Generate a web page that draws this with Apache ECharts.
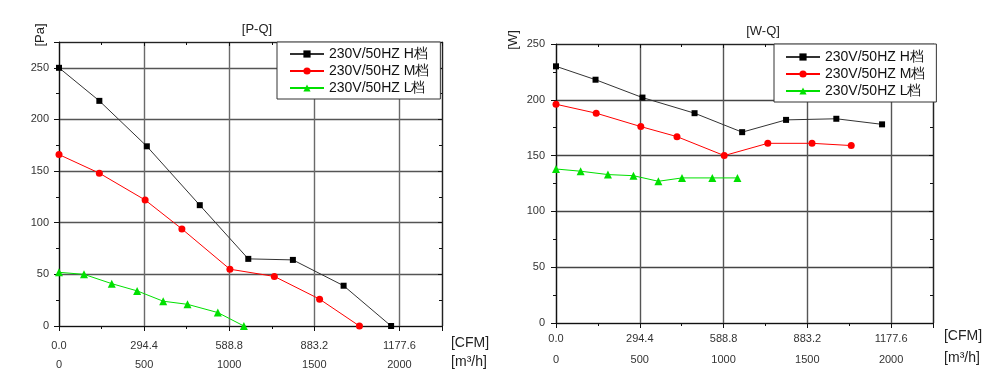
<!DOCTYPE html>
<html>
<head>
<meta charset="utf-8">
<script src="https://cdn.jsdelivr.net/npm/echarts@6/dist/echarts.min.js"></script>
<style>
html,body{margin:0;padding:0;background:#fff;}
#chart{width:1000px;height:386px;}
</style>
</head>
<body>
<div id="chart"></div>
<script>
// ---------- data ----------
const seriesNames = ['230V/50HZ H档', '230V/50HZ M档', '230V/50HZ L档'];

// P-Q chart (x: m³/h, y: Pa)
const pqFlowH = [0, 237, 516, 827, 1112, 1374, 1672, 1951];
const pqPressH = [250, 218, 174, 117, 65, 64, 39, 0];
const pqFlowM = [0, 237, 506, 722, 1004, 1265, 1531, 1765];
const pqPressM = [166, 148, 122, 94, 55, 48, 26, 0];
const pqFlowL = [0, 147, 310, 459, 612, 755, 933, 1086];
const pqPressL = [52, 50, 41, 34, 24, 21, 13, 0];

// W-Q chart (x: m³/h, y: W)
const wqFlowH = [0, 236, 516, 827, 1111, 1373, 1673, 1946];
const wqPowerH = [230, 218, 202, 188, 171, 182, 183, 178];
const wqFlowM = [0, 240, 506, 722, 1004, 1264, 1528, 1762];
const wqPowerM = [196, 188, 176, 167, 150, 161, 161, 159];
const wqFlowL = [0, 147, 310, 462, 611, 752, 933, 1083];
const wqPowerL = [138, 136, 133, 132, 127, 130, 130, 130];

// tick labels
const m3hTicks = [0, 500, 1000, 1500, 2000];
const cfmTickLabels = ['0.0', '294.4', '588.8', '883.2', '1177.6'];
const pqYTicks = [0, 50, 100, 150, 200, 250];
const wqYTicks = [0, 50, 100, 150, 200, 250];

// ---------- chart ----------
const FONT = 'Liberation Sans, Arial, sans-serif';
const pair = (xs, ys) => xs.map((x, i) => [x, ys[i]]);
const xLabel = v => {
  const i = m3hTicks.indexOf(v);
  return i < 0 ? '' : cfmTickLabels[i] + '\n' + m3hTicks[i];
};
const colors = ['#333333', '#ff0000', '#00e000'];
const symbols = ['rect', 'circle', 'triangle'];
const symSizes = [6, 7, 8];

function bottomX(grid, lineH, margin, splitColor) {
  return {
    type: 'value', gridIndex: grid, position: 'bottom',
    min: 0, max: 2250, interval: 500,
    axisLine: { show: true, onZero: false, lineStyle: { color: '#111', width: 1.2 } },
    axisTick: { show: true, inside: false, length: 5, lineStyle: { color: '#111' } },
    minorTick: { show: true, splitNumber: 2, length: 3, lineStyle: { color: '#111' } },
    splitLine: { show: true, lineStyle: { color: splitColor, width: 1.4 } },
    axisLabel: {
      show: true, formatter: xLabel, showMaxLabel: false,
      fontFamily: FONT, fontSize: 11, color: '#333', lineHeight: lineH, margin: margin
    }
  };
}
function topX(grid) {
  return {
    type: 'value', gridIndex: grid, position: 'top',
    min: 0, max: 2250, interval: 500,
    axisLine: { show: true, onZero: false, lineStyle: { color: '#222', width: 1.2 } },
    axisTick: { show: true, inside: true, length: 4, lineStyle: { color: '#111' } },
    minorTick: { show: true, splitNumber: 2, length: 3, lineStyle: { color: '#111' } },
    splitLine: { show: false }, axisLabel: { show: false }
  };
}
function leftY(grid, max, margin, splitColor, ticks) {
  return {
    type: 'value', gridIndex: grid, position: 'left',
    min: 0, max: max, interval: 50,
    axisLine: { show: true, onZero: false, lineStyle: { color: '#111', width: 1.2 } },
    axisTick: { show: true, inside: false, length: 5, lineStyle: { color: '#111' } },
    minorTick: { show: true, splitNumber: 2, length: 3, lineStyle: { color: '#111' } },
    splitLine: { show: true, lineStyle: { color: splitColor, width: 1.4 } },
    axisLabel: {
      show: true, showMaxLabel: ticks.indexOf(max) >= 0,
      formatter: v => (ticks.indexOf(v) >= 0 ? String(v) : ''),
      fontFamily: FONT, fontSize: 11, color: '#333', margin: margin
    }
  };
}
function rightY(grid, max) {
  return {
    type: 'value', gridIndex: grid, position: 'right',
    min: 0, max: max, interval: 50,
    axisLine: { show: true, onZero: false, lineStyle: { color: '#222', width: 1.2 } },
    axisTick: { show: true, inside: true, length: 4, lineStyle: { color: '#111' } },
    minorTick: { show: true, splitNumber: 2, length: 3, lineStyle: { color: '#111' } },
    splitLine: { show: false }, axisLabel: { show: false }
  };
}
function line(nameIdx, data, xi, yi) {
  return {
    type: 'line', name: seriesNames[nameIdx], data: data,
    xAxisIndex: xi, yAxisIndex: yi,
    symbol: symbols[nameIdx], symbolSize: symSizes[nameIdx],
    showAllSymbol: true, animation: false,
    lineStyle: { color: colors[nameIdx], width: 1 },
    itemStyle: { color: nameIdx === 0 ? '#000' : colors[nameIdx] },
    z: 5 - nameIdx
  };
}
function legend(left, top, padding) {
  return {
    orient: 'vertical', left: left, top: top,
    data: seriesNames,
    itemWidth: 34, itemHeight: 9, itemGap: 3,
    padding: padding,
    backgroundColor: '#fff', borderColor: '#333', borderWidth: 1,
    selectedMode: false,
    textStyle: { fontFamily: FONT, fontSize: 14, color: '#111', lineHeight: 14, padding: [0, 0, 0, 0] }
  };
}
function txt(text, x, y, size, rot) {
  return {
    type: 'text', x: x, y: y, rotation: rot || 0, z: 100,
    style: {
      text: text, font: size + 'px ' + FONT, fill: '#222',
      align: 'center', verticalAlign: 'middle',
      textAlign: 'center', textVerticalAlign: 'middle'
    }
  };
}

const chart = echarts.init(document.getElementById('chart'), null, { renderer: 'canvas' });
chart.setOption({
  animation: false,
  backgroundColor: '#fff',
  textStyle: { fontFamily: FONT },
  title: [
    { text: '[P-Q]', left: 252, top: 18, textAlign: 'center', textStyle: { fontFamily: FONT, fontSize: 13, fontWeight: 'normal', color: '#222' } },
    { text: '[W-Q]', left: 758, top: 20, textAlign: 'center', textStyle: { fontFamily: FONT, fontSize: 13, fontWeight: 'normal', color: '#222' } }
  ],
  grid: [
    { left: 59, right: 558, top: 42, bottom: 60, containLabel: false },
    { left: 556, right: 67, top: 44, bottom: 63, containLabel: false }
  ],
  xAxis: [
    bottomX(0, 19, 10, '#6a6a6a'), topX(0),
    bottomX(1, 21, 5, '#555'), topX(1)
  ],
  yAxis: [
    leftY(0, 275, 10, '#555', pqYTicks), rightY(0, 275),
    leftY(1, 250, 11, '#444', wqYTicks), rightY(1, 250)
  ],
  legend: [
    legend(277, 42, [5, 11, 4, 12]),
    legend(774, 44, [6, 11, 4, 11])
  ],
  graphic: [
    txt('[Pa]', 40, 35, 13, Math.PI / 2),
    txt('[W]', 513, 40, 13, Math.PI / 2),
    txt('[CFM]', 470, 343, 14),
    txt('[m³/h]', 469, 362, 14),
    txt('[CFM]', 963, 336, 14),
    txt('[m³/h]', 962, 358, 14)
  ],
  series: [
    line(0, pair(pqFlowH, pqPressH), 0, 0),
    line(1, pair(pqFlowM, pqPressM), 0, 0),
    line(2, pair(pqFlowL, pqPressL), 0, 0),
    line(0, pair(wqFlowH, wqPowerH), 2, 2),
    line(1, pair(wqFlowM, wqPowerM), 2, 2),
    line(2, pair(wqFlowL, wqPowerL), 2, 2)
  ]
});
</script>
</body>
</html>
